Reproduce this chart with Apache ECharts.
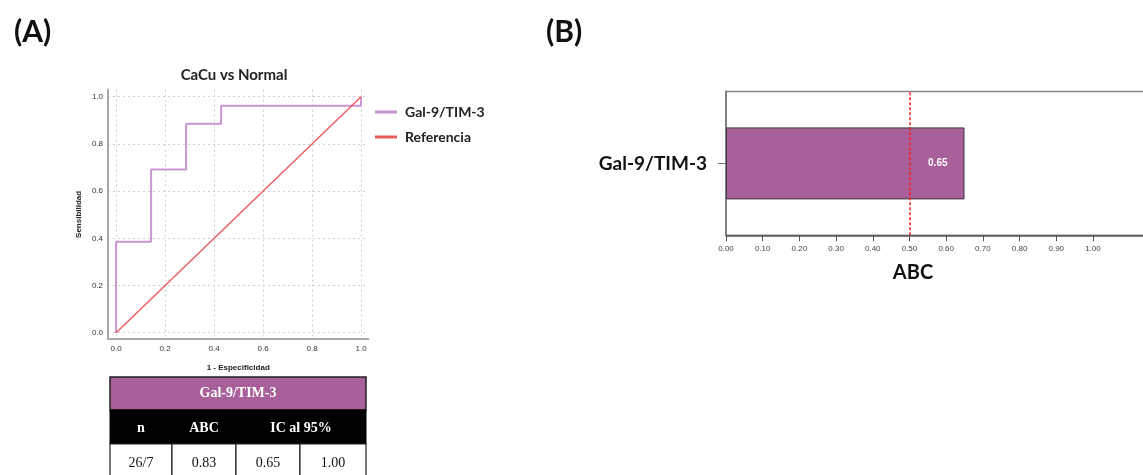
<!DOCTYPE html>
<html>
<head>
<meta charset="utf-8">
<script src="https://cdn.jsdelivr.net/npm/echarts@6/dist/echarts.min.js"></script>
<style>html,body{margin:0;padding:0;background:#fff;}#chart{width:1143px;height:475px;}</style>
</head>
<body>
<div id="chart"></div>
<script>
// ---- Panel A: ROC curve data ----
const rocFpr = [0, 0, 0.143, 0.143, 0.286, 0.286, 0.429, 0.429, 1, 1];
const rocTpr = [0, 0.385, 0.385, 0.692, 0.692, 0.885, 0.885, 0.962, 0.962, 1];
const refFpr = [0, 1];
const refTpr = [0, 1];
const rocTicks = [0, 0.2, 0.4, 0.6, 0.8, 1.0];
const rocSeriesNames = ['Gal-9/TIM-3', 'Referencia'];

// ---- Panel A: table ----
const tableTitle = 'Gal-9/TIM-3';
const tableHeader = ['n', 'ABC', 'IC al 95%'];
const tableValues = ['26/7', '0.83', '0.65', '1.00'];

// ---- Panel B: bar data ----
const barCategories = ['Gal-9/TIM-3'];
const barValues = [0.65];
const barTicks = [0, 0.1, 0.2, 0.3, 0.4, 0.5, 0.6, 0.7, 0.8, 0.9, 1.0];
const refLineValue = 0.5;

const chart = echarts.init(document.getElementById('chart'), null, {renderer: 'canvas'});

const sans = 'Lato';

// table geometry
const colX = [110, 172, 236, 300, 366];
const rowY = [377, 410, 444, 478];
const purple = '#a8609a';

const g = [];
g.push({type: 'rect', shape: {x: colX[0], y: rowY[0], width: colX[4] - colX[0], height: rowY[1] - rowY[0]},
  style: {fill: purple, stroke: '#222', lineWidth: 1.5}});
g.push({type: 'text', x: (colX[0] + colX[4]) / 2, y: (rowY[0] + rowY[1]) / 2,
  style: {text: tableTitle, fill: '#fff', font: 'bold 14px "Liberation Serif"', align: 'center', verticalAlign: 'middle'}});
g.push({type: 'rect', shape: {x: colX[0], y: rowY[1], width: colX[4] - colX[0], height: rowY[2] - rowY[1]},
  style: {fill: '#000', stroke: '#000', lineWidth: 1}});
const hdrCenters = [(colX[0] + colX[1]) / 2, (colX[1] + colX[2]) / 2, (colX[2] + colX[4]) / 2];
tableHeader.forEach((t, i) => {
  g.push({type: 'text', x: hdrCenters[i], y: (rowY[1] + rowY[2]) / 2 + 1,
    style: {text: t, fill: '#fff', font: 'bold 14px "Liberation Serif"', align: 'center', verticalAlign: 'middle'}});
});
tableValues.forEach((t, i) => {
  g.push({type: 'rect', shape: {x: colX[i], y: rowY[2], width: colX[i + 1] - colX[i], height: rowY[3] - rowY[2]},
    style: {fill: '#fff', stroke: '#222', lineWidth: 1.2}});
  g.push({type: 'text', x: (colX[i] + colX[i + 1]) / 2, y: 463,
    style: {text: t, fill: '#111', font: '14px "Liberation Serif"', align: 'center', verticalAlign: 'middle'}});
});

const option = {
  backgroundColor: '#fff',
  animation: false,
  title: [
    {text: '(A)', left: 9, top: 12, textStyle: {fontFamily: sans, fontWeight: 'bold', fontSize: 30, color: '#111'}},
    {text: '(B)', left: 541, top: 12, textStyle: {fontFamily: sans, fontWeight: 'bold', fontSize: 30, color: '#111'}},
    {text: 'CaCu vs Normal', left: 229, top: 63, textAlign: 'center', textStyle: {fontFamily: sans, fontWeight: 'bold', fontSize: 15, color: '#222'}}
  ],
  legend: {
    data: rocSeriesNames.map(n => ({name: n, icon: 'rect'})),
    orient: 'vertical',
    left: 370, top: 100,
    itemWidth: 22, itemHeight: 3, itemGap: 11,
    textStyle: {fontFamily: sans, fontWeight: 'bold', fontSize: 14, color: '#222', padding: [0, 0, 0, 3]}
  },
  grid: [
    {left: 108, top: 89.6, width: 260.4, height: 249.5, show: false, outerBoundsMode: 'none', containLabel: false},
    {left: 726, top: 91.5, right: -5, height: 143.8, show: true, borderColor: '#888', borderWidth: 1.5,
      backgroundColor: 'transparent', outerBoundsMode: 'none', containLabel: false}
  ],
  xAxis: [
    {
      type: 'value', gridIndex: 0, min: -0.033, max: 1.03,
      name: '1 - Especificidad', nameLocation: 'middle', nameGap: 25,
      nameTextStyle: {fontFamily: 'Liberation Sans', fontWeight: 'bold', fontSize: 8, color: '#222'},
      axisLine: {show: true, onZero: false, lineStyle: {color: '#a8a8a8', width: 2}},
      axisTick: {show: false, customValues: rocTicks},
      axisLabel: {customValues: rocTicks, formatter: v => v.toFixed(1), fontFamily: 'Liberation Sans', fontSize: 8, color: '#333', margin: 6},
      splitLine: {show: true, lineStyle: {color: '#cfcfcf', type: [2, 3], width: 1}}
    },
    {
      type: 'value', gridIndex: 1, min: 0, max: 1.15,
      axisLine: {show: true, onZero: false, lineStyle: {color: '#555', width: 1.5}},
      axisTick: {show: true, customValues: barTicks, length: 6, lineStyle: {color: '#555'}},
      axisLabel: {customValues: barTicks, formatter: v => v.toFixed(2), fontFamily: 'Liberation Sans', fontSize: 8, color: '#444', margin: 9},
      splitLine: {show: false}
    }
  ],
  yAxis: [
    {
      type: 'value', gridIndex: 0, min: -0.027, max: 1.03,
      name: 'Sensibilidad', nameLocation: 'middle', nameGap: 25,
      nameTextStyle: {fontFamily: 'Liberation Sans', fontWeight: 'bold', fontSize: 8, color: '#222'},
      axisLine: {show: true, onZero: false, lineStyle: {color: '#a8a8a8', width: 2}},
      axisTick: {show: false, customValues: rocTicks},
      axisLabel: {customValues: rocTicks, formatter: v => v.toFixed(1), fontFamily: 'Liberation Sans', fontSize: 8, color: '#333', margin: 5},
      splitLine: {show: true, lineStyle: {color: '#cfcfcf', type: [2, 3], width: 1}}
    },
    {
      type: 'category', gridIndex: 1, data: barCategories,
      axisLine: {show: true, onZero: false, lineStyle: {color: '#777', width: 1.5}},
      axisTick: {show: true, alignWithLabel: true, length: 8, lineStyle: {color: '#777'}},
      axisLabel: {fontFamily: sans, fontWeight: 'bold', fontSize: 19, color: '#111', margin: 19}
    }
  ],
  series: [
    {
      name: rocSeriesNames[0], type: 'line', xAxisIndex: 0, yAxisIndex: 0,
      data: rocFpr.map((x, i) => [x, rocTpr[i]]),
      showSymbol: false, symbol: 'none',
      lineStyle: {color: '#c996d2', width: 2}, itemStyle: {color: '#c996d2'}, z: 3
    },
    {
      name: rocSeriesNames[1], type: 'line', xAxisIndex: 0, yAxisIndex: 0,
      data: refFpr.map((x, i) => [x, refTpr[i]]),
      showSymbol: false, symbol: 'none',
      lineStyle: {color: '#ec5a5e', width: 1.4}, itemStyle: {color: '#ec5a5e'}, z: 4
    },
    {
      type: 'bar', xAxisIndex: 1, yAxisIndex: 1,
      data: barValues, barWidth: 72,
      itemStyle: {color: purple, borderColor: '#3a3a3a', borderWidth: 1},
      label: {show: true, position: 'insideRight', distance: 17, formatter: p => p.value.toFixed(2),
        fontFamily: 'Liberation Sans', fontWeight: 'bold', fontSize: 10, color: '#fff'},
      markLine: {
        silent: true, symbol: 'none', label: {show: false},
        lineStyle: {color: '#ff1a1a', type: [3, 2], width: 1.5},
        data: [{xAxis: refLineValue}]
      }
    }
  ],
  graphic: g.concat([
    {type: 'text', x: 913, y: 273, style: {text: 'ABC', fill: '#111', font: 'bold 20px Lato', align: 'center', verticalAlign: 'middle'}}
  ])
};
chart.setOption(option);
</script>
</body>
</html>
